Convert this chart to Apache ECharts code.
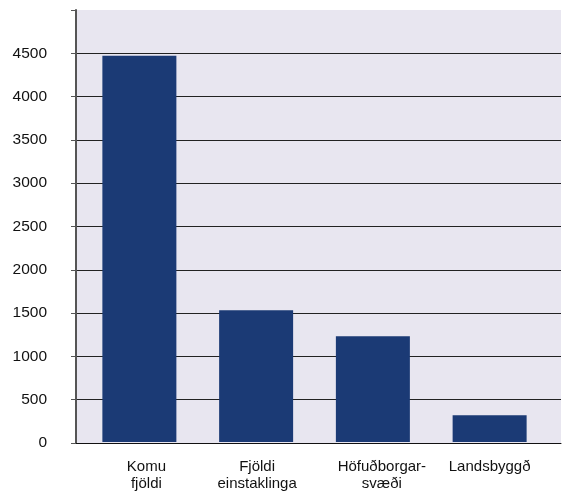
<!DOCTYPE html>
<html>
<head>
<meta charset="utf-8">
<script src="https://cdn.jsdelivr.net/npm/echarts@6/dist/echarts.min.js"></script>
<style>
  html, body { margin: 0; padding: 0; background: #ffffff; }
  #chart { width: 563px; height: 492px; }
</style>
</head>
<body>
<div id="chart"></div>
<script>
// data
const categories = ["Komu\nfjöldi", "Fjöldi\neinstaklinga", "Höfuðborgar-\nsvæði", "Landsbyggð"]
const values = [4470, 1525, 1225, 310]
const yTicks = [0, 500, 1000, 1500, 2000, 2500, 3000, 3500, 4000, 4500, 5000]

const chartDom = document.getElementById("chart")
const myChart = echarts.init(chartDom)

const bgColor = "#e8e6f0"
// last split line (at 5000) is hidden by painting it like the background
const splitColors = yTicks.map((t, i) => (i === yTicks.length - 1 ? bgColor : "#222222"))

// the original labels sit a little right of some bars
const labelShift = [14, 2, 18, 0]
const xLabels = categories.map((c, i) => ({
  value: c,
  textStyle: { padding: [0, 0, 0, labelShift[i]] },
}))

const option = {
  animation: false,
  textStyle: { fontFamily: "Liberation Sans, Arial, sans-serif" },
  grid: [
    { left: 76, right: 2, top: 10, bottom: 49, show: true, backgroundColor: bgColor, borderWidth: 0 },
    { left: 81, right: 15, top: 10, bottom: 49 },
  ],
  xAxis: [
    {
      type: "category",
      gridIndex: 0,
      data: categories,
      axisLine: { show: true, lineStyle: { color: "#111111", width: 1 } },
      axisTick: { show: false },
      axisLabel: { show: false },
    },
    {
      type: "category",
      gridIndex: 1,
      data: xLabels,
      axisLine: { show: false },
      axisTick: { show: false },
      axisLabel: {
        color: "#111111",
        fontSize: 15,
        lineHeight: 17,
        margin: 16,
        interval: 0,
      },
    },
  ],
  yAxis: [
    {
      type: "value",
      gridIndex: 0,
      min: 0,
      max: 5000,
      interval: 500,
      axisLine: { show: true, lineStyle: { color: "#555555", width: 2 } },
      axisTick: { show: true, inside: false, length: 5, lineStyle: { color: "#555555" } },
      axisLabel: {
        color: "#111111",
        fontSize: 15.5,
        margin: 29,
        formatter: (v) => (v === 5000 ? "" : String(v)),
      },
      splitLine: { show: true, lineStyle: { color: splitColors, width: 1 } },
    },
    {
      type: "value",
      gridIndex: 1,
      min: 0,
      max: 5000,
      show: false,
    },
  ],
  series: [
    {
      type: "bar",
      xAxisIndex: 1,
      yAxisIndex: 1,
      data: values,
      barWidth: 74,
      itemStyle: { color: "#1b3a75" },
    },
  ],
}

myChart.setOption(option)
</script>
</body>
</html>
